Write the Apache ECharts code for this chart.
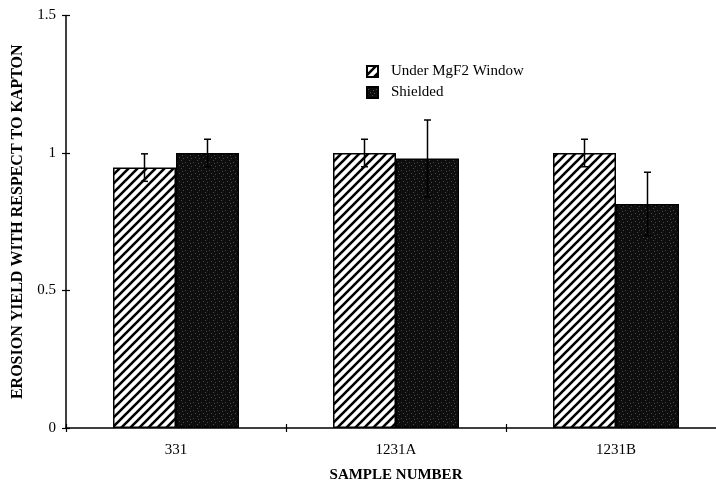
<!DOCTYPE html>
<html>
<head>
<meta charset="utf-8">
<script src="https://cdn.jsdelivr.net/npm/echarts@6/dist/echarts.min.js"></script>
<style>html,body{margin:0;padding:0;background:#fff;overflow:hidden;width:716px;height:491px}#c{width:726px;height:491px}</style>
</head>
<body>
<div id="c"></div>
<script>
const categories = ['331', '1231A', '1231B'];
const underMgF2 = [0.947, 1.0, 1.0];
const underMgF2Err = [0.05, 0.05, 0.05];
const shielded = [1.0, 0.98, 0.815];
const shieldedErr = [0.05, 0.14, 0.115];
const yMin = 0, yMax = 1.5, yStep = 0.5;

function hatchPattern() {
  const s = 9;
  const c = document.createElement('canvas');
  c.width = s; c.height = s;
  const g = c.getContext('2d');
  g.fillStyle = '#fff'; g.fillRect(0, 0, s, s);
  g.strokeStyle = '#000'; g.lineWidth = 2.6;
  g.beginPath();
  g.moveTo(-2, s + 2); g.lineTo(s + 2, -2);
  g.moveTo(-2, 2); g.lineTo(2, -2);
  g.moveTo(s - 2, s + 2); g.lineTo(s + 2, s - 2);
  g.stroke();
  return c;
}
function darkPattern() {
  const s = 8;
  const c = document.createElement('canvas');
  c.width = s; c.height = s;
  const g = c.getContext('2d');
  g.fillStyle = '#0e0e0e'; g.fillRect(0, 0, s, s);
  g.fillStyle = '#4a4a4a';
  [[1,2],[5,0],[3,5],[7,6],[6,3]].forEach(p => g.fillRect(p[0], p[1], 1, 1));
  return c;
}

const BAR_W = 63;
function errSeries(vals, errs, offset) {
  return {
    type: 'custom',
    xAxisIndex: 0, yAxisIndex: 0,
    z: 10,
    silent: true,
    data: vals.map((v, i) => [i, v, errs[i]]),
    renderItem: function (params, api) {
      const i = api.value(0), v = api.value(1), e = api.value(2);
      const top = api.coord([i, v + e]);
      const bot = api.coord([i, v - e]);
      const x = top[0] + offset;
      const cap = 3.5;
      const st = { stroke: '#000', lineWidth: 1.5 };
      return {
        type: 'group',
        children: [
          { type: 'line', shape: { x1: x, y1: top[1], x2: x, y2: bot[1] }, style: st },
          { type: 'line', shape: { x1: x - cap, y1: top[1], x2: x + cap, y2: top[1] }, style: st },
          { type: 'line', shape: { x1: x - cap, y1: bot[1], x2: x + cap, y2: bot[1] }, style: st }
        ]
      };
    }
  };
}

const font = 'Liberation Serif';
const chart = echarts.init(document.getElementById('c'), null, { renderer: 'canvas' });
chart.setOption({
  backgroundColor: '#fff',
  animation: false,
  textStyle: { fontFamily: font, color: '#000' },
  grid: { left: 66, right: 0, top: 15.5, height: 412.5 },
  legend: {
    orient: 'vertical',
    left: 361, top: 59,
    icon: 'rect',
    itemWidth: 11, itemHeight: 11, itemGap: 6,
    textStyle: { fontFamily: font, fontSize: 15, color: '#000', padding: [0, 0, 0, 8] },
    data: ['Under MgF2 Window', 'Shielded']
  },
  xAxis: [{
    type: 'category',
    data: categories,
    axisLine: { lineStyle: { color: '#000', width: 1.5 } },
    axisTick: { show: true, length: 4, lineStyle: { color: '#000', width: 1.2 } },
    axisLabel: { fontFamily: font, fontSize: 15, color: '#000', margin: 15 },
    name: 'SAMPLE NUMBER',
    nameLocation: 'middle',
    nameGap: 40,
    nameTextStyle: { fontFamily: font, fontSize: 15, fontWeight: 'bold', color: '#000' }
  }, {
    type: 'category',
    data: categories,
    position: 'bottom',
    axisLine: { show: false },
    axisTick: { show: true, inside: true, length: 4, lineStyle: { color: '#000', width: 1.2 } },
    axisLabel: { show: false }
  }],
  yAxis: [{
    type: 'value',
    min: yMin, max: yMax, interval: yStep,
    splitLine: { show: false },
    axisLine: { show: true, lineStyle: { color: '#000', width: 1.5 } },
    axisTick: { show: true, length: 4, lineStyle: { color: '#000', width: 1.2 } },
    axisLabel: { fontFamily: font, fontSize: 15, color: '#000', margin: 10 },
    name: 'EROSION YIELD WITH RESPECT TO KAPTON',
    nameLocation: 'middle',
    nameGap: 36,
    nameTextStyle: { fontFamily: font, fontSize: 16, fontWeight: 'bold', color: '#000' }
  }, {
    type: 'value',
    min: yMin, max: yMax, interval: yStep,
    position: 'left',
    splitLine: { show: false },
    axisLine: { show: false },
    axisTick: { show: true, inside: true, length: 4, lineStyle: { color: '#000', width: 1.2 } },
    axisLabel: { show: false }
  }],
  series: [{
    name: 'Under MgF2 Window',
    type: 'bar',
    data: underMgF2,
    barWidth: BAR_W,
    barGap: '0%',
    itemStyle: { color: { image: hatchPattern(), repeat: 'repeat' }, borderColor: '#000', borderWidth: 1.5 }
  }, {
    name: 'Shielded',
    type: 'bar',
    data: shielded,
    barWidth: BAR_W,
    barGap: '0%',
    itemStyle: { color: { image: darkPattern(), repeat: 'repeat' }, borderColor: '#000', borderWidth: 1.5 }
  },
  errSeries(underMgF2, underMgF2Err, -BAR_W / 2),
  errSeries(shielded, shieldedErr, BAR_W / 2)
  ]
});
</script>
</body>
</html>
